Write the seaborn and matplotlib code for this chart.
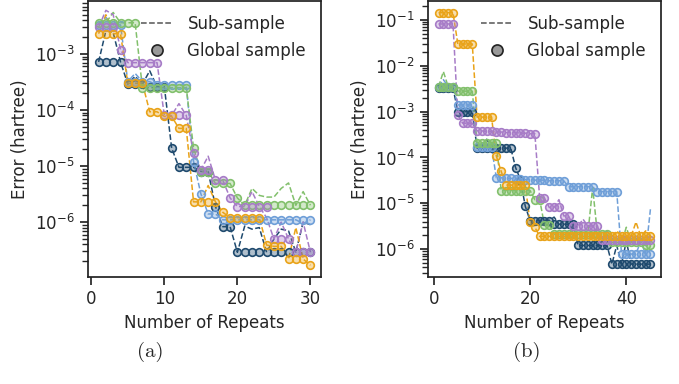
import matplotlib
matplotlib.use('Agg')
import matplotlib.pyplot as plt
import seaborn as sns
from matplotlib.lines import Line2D
from matplotlib.colors import to_rgba

# ---------------- data: panel (a), 30 repeats ----------------
repeats_a = list(range(1, 31))

navy_glob_a = [7.2e-4, 7.2e-4, 7.2e-4, 7.2e-4, 2.9e-4, 2.9e-4, 2.9e-4, 2.6e-4, 2.6e-4, 2.6e-4,
               2.1e-5, 9.5e-6, 9.5e-6, 9.5e-6, 8.0e-6, 8.0e-6, 1.9e-6, 8.3e-7, 8.3e-7, 2.9e-7,
               2.9e-7, 2.9e-7, 2.9e-7, 2.9e-7, 2.9e-7, 2.9e-7, 2.9e-7, 2.9e-7, 2.9e-7, 2.9e-7]
navy_sub_a = [7.2e-4, 2.6e-3, 2.4e-3, 7.2e-4, 2.9e-4, 4.0e-4, 2.9e-4, 5.0e-4, 2.6e-4, 2.6e-4,
              2.1e-5, 9.5e-6, 9.5e-6, 9.5e-6, 8.0e-6, 8.0e-6, 1.9e-6, 8.3e-7, 8.3e-7, 2.9e-7,
              8.5e-7, 7.5e-7, 8.0e-7, 2.9e-7, 5.0e-7, 7.5e-7, 7.0e-7, 2.9e-7, 1.0e-6, 9.0e-7]

lblue_glob_a = [3.3e-3, 3.3e-3, 3.3e-3, 3.3e-3, 3.2e-4, 3.2e-4, 3.2e-4, 3.2e-4, 2.8e-4, 2.8e-4,
                2.8e-4, 2.8e-4, 2.8e-4, 1.2e-5, 3.2e-6, 1.4e-6, 1.4e-6, 1.1e-6, 1.1e-6, 1.1e-6,
                1.1e-6, 1.1e-6, 1.1e-6, 1.1e-6, 1.1e-6, 1.1e-6, 1.1e-6, 1.1e-6, 1.1e-6, 1.1e-6]
lblue_sub_a = [3.3e-3, 4.5e-3, 3.3e-3, 3.3e-3, 3.2e-4, 4.5e-4, 3.2e-4, 3.2e-4, 2.8e-4, 2.8e-4,
               2.8e-4, 2.8e-4, 2.8e-4, 1.2e-5, 3.2e-6, 1.4e-6, 1.4e-6, 1.1e-6, 1.1e-6, 1.1e-6,
               1.1e-6, 1.1e-6, 1.1e-6, 1.1e-6, 1.1e-6, 1.1e-6, 1.1e-6, 1.1e-6, 9.5e-7, 1.1e-6]

green_glob_a = [3.6e-3, 3.6e-3, 3.6e-3, 3.6e-3, 3.6e-3, 3.6e-3, 2.5e-4, 2.5e-4, 2.5e-4, 2.5e-4,
                2.5e-4, 2.5e-4, 2.5e-4, 2.1e-5, 8.0e-6, 8.0e-6, 4.9e-6, 4.9e-6, 4.9e-6, 2.7e-6,
                2.0e-6, 2.0e-6, 2.0e-6, 2.0e-6, 2.0e-6, 2.0e-6, 2.0e-6, 2.0e-6, 2.0e-6, 2.0e-6]
green_sub_a = [3.6e-3, 3.6e-3, 5.5e-3, 3.6e-3, 3.6e-3, 3.6e-3, 2.5e-4, 2.5e-4, 2.5e-4, 2.5e-4,
               2.5e-4, 2.5e-4, 2.5e-4, 2.1e-5, 8.0e-6, 8.0e-6, 4.9e-6, 4.9e-6, 4.9e-6, 2.7e-6,
               2.0e-6, 4.0e-6, 3.0e-6, 2.8e-6, 2.8e-6, 4.0e-6, 5.0e-6, 2.0e-6, 3.5e-6, 2.0e-6]

purple_glob_a = [3.0e-3, 3.0e-3, 3.0e-3, 1.2e-3, 7.0e-4, 7.0e-4, 7.0e-4, 7.0e-4, 7.0e-4, 8.0e-5,
                 8.0e-5, 8.0e-5, 8.0e-5, 1.7e-5, 8.5e-6, 8.5e-6, 5.6e-6, 5.6e-6, 2.7e-6, 1.9e-6,
                 1.9e-6, 1.9e-6, 1.9e-6, 1.9e-6, 5.0e-7, 5.0e-7, 5.0e-7, 2.9e-7, 2.9e-7, 2.9e-7]
purple_sub_a = [3.0e-3, 6.0e-3, 5.0e-3, 1.2e-3, 7.0e-4, 7.0e-4, 7.0e-4, 7.0e-4, 7.0e-4, 8.0e-5,
                8.0e-5, 1.3e-4, 8.0e-5, 1.7e-5, 8.5e-6, 1.5e-5, 5.6e-6, 5.6e-6, 2.7e-6, 1.9e-6,
                1.9e-6, 3.5e-6, 1.9e-6, 1.2e-6, 5.0e-7, 1.0e-6, 5.0e-7, 2.9e-7, 1.0e-6, 2.9e-7]

orange_glob_a = [2.3e-3, 2.3e-3, 2.3e-3, 2.3e-3, 3.0e-4, 3.0e-4, 3.0e-4, 9.3e-5, 9.3e-5, 7.7e-5,
                 7.7e-5, 4.7e-5, 4.7e-5, 2.3e-6, 2.3e-6, 2.3e-6, 2.3e-6, 1.5e-6, 1.2e-6, 1.2e-6,
                 1.2e-6, 1.2e-6, 1.2e-6, 3.9e-7, 3.7e-7, 3.7e-7, 2.2e-7, 2.2e-7, 2.2e-7, 1.7e-7]
orange_sub_a = [2.3e-3, 5.0e-3, 2.3e-3, 2.3e-3, 3.0e-4, 3.0e-4, 3.0e-4, 9.3e-5, 9.3e-5, 7.7e-5,
                7.7e-5, 4.7e-5, 4.7e-5, 2.3e-6, 2.3e-6, 4.5e-6, 2.3e-6, 1.5e-6, 1.2e-6, 1.2e-6,
                1.2e-6, 1.2e-6, 1.2e-6, 3.9e-7, 3.7e-7, 3.7e-7, 2.2e-7, 8.0e-7, 2.2e-7, 1.7e-7]

# ---------------- data: panel (b), 45 repeats ----------------
repeats_b = list(range(1, 46))

navy_glob_b = [3.3e-3, 3.3e-3, 3.3e-3, 3.3e-3, 1.0e-3, 1.0e-3, 1.0e-3, 1.0e-3, 1.6e-4, 1.6e-4,
               1.6e-4, 1.6e-4, 1.6e-4, 1.6e-4, 1.6e-4, 1.6e-4, 6.0e-5, 3.3e-5, 8.7e-6, 4.2e-6,
               4.2e-6, 4.2e-6, 4.2e-6, 4.2e-6, 3.5e-6, 3.5e-6, 3.5e-6, 3.5e-6, 3.5e-6, 1.2e-6,
               1.2e-6, 1.2e-6, 1.2e-6, 1.2e-6, 1.2e-6, 1.2e-6, 4.7e-7, 4.7e-7, 4.7e-7, 4.7e-7,
               4.7e-7, 4.7e-7, 4.7e-7, 4.7e-7, 4.7e-7]
navy_sub_b = [3.3e-3, 4.0e-3, 3.3e-3, 3.3e-3, 1.0e-3, 1.0e-3, 1.0e-3, 1.0e-3, 1.6e-4, 1.6e-4,
              2.5e-4, 1.6e-4, 1.6e-4, 1.6e-4, 1.6e-4, 1.6e-4, 6.0e-5, 3.3e-5, 8.7e-6, 4.2e-6,
              4.2e-6, 4.2e-6, 4.2e-6, 4.2e-6, 5.0e-6, 3.5e-6, 3.5e-6, 3.5e-6, 3.5e-6, 1.2e-6,
              1.2e-6, 1.2e-6, 1.2e-6, 1.2e-6, 1.2e-6, 1.2e-6, 4.7e-7, 1.2e-6, 4.7e-7, 1.5e-6,
              4.7e-7, 4.7e-7, 4.7e-7, 4.7e-7, 4.7e-7]

lblue_glob_b = [3.5e-3, 3.5e-3, 3.5e-3, 3.5e-3, 1.4e-3, 1.4e-3, 1.4e-3, 1.4e-3, 1.7e-4, 1.7e-4,
                1.7e-4, 1.7e-4, 3.6e-5, 3.6e-5, 3.5e-5, 3.5e-5, 3.4e-5, 3.4e-5, 3.3e-5, 3.3e-5,
                3.2e-5, 3.2e-5, 3.2e-5, 3.1e-5, 3.1e-5, 3.1e-5, 3.1e-5, 2.3e-5, 2.3e-5, 2.3e-5,
                2.3e-5, 2.3e-5, 2.3e-5, 1.8e-5, 1.8e-5, 1.8e-5, 1.8e-5, 1.8e-5, 7.8e-7, 7.8e-7,
                7.8e-7, 7.8e-7, 7.8e-7, 7.8e-7, 7.8e-7]
lblue_sub_b = [3.5e-3, 5.0e-3, 3.5e-3, 3.5e-3, 1.4e-3, 1.4e-3, 1.4e-3, 1.4e-3, 1.7e-4, 1.7e-4,
               1.7e-4, 1.7e-4, 3.6e-5, 3.6e-5, 3.5e-5, 3.5e-5, 3.4e-5, 3.4e-5, 3.3e-5, 3.3e-5,
               3.2e-5, 3.2e-5, 3.2e-5, 3.1e-5, 3.1e-5, 3.1e-5, 3.1e-5, 2.3e-5, 2.3e-5, 2.3e-5,
               2.3e-5, 2.3e-5, 2.3e-5, 1.8e-5, 1.8e-5, 1.8e-5, 1.8e-5, 1.8e-5, 7.8e-7, 7.8e-7,
               7.8e-7, 7.8e-7, 1.5e-6, 7.8e-7, 7.4e-6]

green_glob_b = [3.5e-3, 3.5e-3, 3.5e-3, 3.5e-3, 2.8e-3, 2.8e-3, 2.8e-3, 2.8e-3, 2.1e-4, 2.1e-4,
                2.1e-4, 2.1e-4, 2.1e-4, 1.9e-5, 1.9e-5, 1.9e-5, 1.9e-5, 1.9e-5, 1.9e-5, 1.9e-5,
                1.2e-5, 1.2e-5, 3.3e-6, 3.3e-6, 2.1e-6, 2.1e-6, 2.1e-6, 2.1e-6, 2.1e-6, 2.1e-6,
                2.1e-6, 2.1e-6, 2.1e-6, 2.1e-6, 2.1e-6, 2.1e-6, 1.4e-6, 1.4e-6, 1.4e-6, 1.4e-6,
                1.4e-6, 1.4e-6, 1.4e-6, 1.2e-6, 1.2e-6]
green_sub_b = [3.5e-3, 7.5e-3, 3.5e-3, 3.5e-3, 2.8e-3, 2.8e-3, 2.8e-3, 2.8e-3, 2.1e-4, 2.1e-4,
               2.1e-4, 2.1e-4, 2.1e-4, 1.9e-5, 1.9e-5, 1.9e-5, 1.9e-5, 1.9e-5, 1.9e-5, 1.9e-5,
               1.2e-5, 1.2e-5, 3.3e-6, 3.3e-6, 2.1e-6, 2.1e-6, 2.1e-6, 2.1e-6, 2.1e-6, 2.1e-6,
               2.1e-6, 2.1e-6, 2.2e-5, 2.1e-6, 2.1e-6, 2.1e-6, 1.4e-6, 1.4e-6, 1.4e-6, 3.0e-6,
               1.4e-6, 2.0e-6, 1.4e-6, 1.2e-6, 1.2e-6]

purple_glob_b = [8.2e-2, 8.2e-2, 8.2e-2, 8.2e-2, 8.5e-4, 5.6e-4, 5.6e-4, 5.6e-4, 3.8e-4, 3.8e-4,
                 3.7e-4, 3.7e-4, 3.6e-4, 3.6e-4, 3.5e-4, 3.5e-4, 3.5e-4, 3.4e-4, 3.4e-4, 3.3e-4,
                 3.3e-4, 1.3e-5, 1.3e-5, 8.1e-6, 8.1e-6, 8.1e-6, 5.3e-6, 5.3e-6, 3.2e-6, 3.2e-6,
                 3.2e-6, 3.2e-6, 3.2e-6, 3.2e-6, 1.6e-6, 1.6e-6, 1.6e-6, 1.6e-6, 1.6e-6, 1.6e-6,
                 1.6e-6, 1.6e-6, 1.6e-6, 1.6e-6, 1.6e-6]
purple_sub_b = [8.2e-2, 8.2e-2, 8.2e-2, 8.2e-2, 8.5e-4, 5.6e-4, 5.6e-4, 5.6e-4, 3.8e-4, 3.8e-4,
                3.7e-4, 3.7e-4, 3.6e-4, 3.6e-4, 3.5e-4, 3.5e-4, 3.5e-4, 3.4e-4, 3.4e-4, 3.3e-4,
                3.3e-4, 1.3e-5, 1.3e-5, 8.1e-6, 8.1e-6, 1.2e-5, 5.3e-6, 5.3e-6, 3.2e-6, 3.2e-6,
                4.5e-6, 3.2e-6, 3.2e-6, 3.2e-6, 1.6e-6, 2.5e-6, 1.6e-6, 1.6e-6, 1.6e-6, 1.6e-6,
                1.6e-6, 1.6e-6, 1.6e-6, 1.6e-6, 1.6e-6]

orange_glob_b = [1.45e-1, 1.45e-1, 1.45e-1, 1.45e-1, 3.0e-2, 3.0e-2, 3.0e-2, 3.0e-2, 7.6e-4, 7.6e-4,
                 7.6e-4, 7.6e-4, 1.07e-4, 5.0e-5, 2.5e-5, 2.5e-5, 2.5e-5, 2.5e-5, 2.5e-5, 3.9e-6,
                 3.0e-6, 1.9e-6, 1.9e-6, 1.9e-6, 1.9e-6, 1.9e-6, 1.9e-6, 1.9e-6, 1.9e-6, 1.9e-6,
                 1.9e-6, 1.9e-6, 1.9e-6, 1.9e-6, 1.9e-6, 1.9e-6, 1.9e-6, 1.9e-6, 1.9e-6, 1.9e-6,
                 1.9e-6, 1.9e-6, 1.9e-6, 1.9e-6, 1.9e-6]
orange_sub_b = [1.45e-1, 1.45e-1, 1.45e-1, 1.45e-1, 3.0e-2, 3.0e-2, 3.0e-2, 3.0e-2, 7.6e-4, 7.6e-4,
                7.6e-4, 7.6e-4, 1.07e-4, 5.0e-5, 2.5e-5, 2.5e-5, 2.5e-5, 2.5e-5, 2.5e-5, 3.9e-6,
                3.0e-6, 1.9e-6, 1.9e-6, 1.9e-6, 1.9e-6, 1.9e-6, 1.9e-6, 1.9e-6, 1.9e-6, 1.9e-6,
                1.9e-6, 1.9e-6, 1.9e-6, 1.9e-6, 1.9e-6, 1.9e-6, 1.9e-6, 2.5e-6, 1.9e-6, 1.9e-6,
                1.9e-6, 3.9e-6, 1.9e-6, 2.5e-6, 1.9e-6]

colors = ['#1f4a6e', '#6f9fd8', '#82c06c', '#a77cc7', '#e9a319']

series_a = [(navy_sub_a, navy_glob_a), (lblue_sub_a, lblue_glob_a), (green_sub_a, green_glob_a),
            (purple_sub_a, purple_glob_a), (orange_sub_a, orange_glob_a)]
series_b = [(navy_sub_b, navy_glob_b), (lblue_sub_b, lblue_glob_b), (green_sub_b, green_glob_b),
            (purple_sub_b, purple_glob_b), (orange_sub_b, orange_glob_b)]

# ---------------- style ----------------
sns.set_theme(style='ticks')
plt.rcParams['font.family'] = ['DejaVu Sans']
plt.rcParams['mathtext.fontset'] = 'dejavusans'
plt.rcParams['xtick.labelsize'] = 12
plt.rcParams['ytick.labelsize'] = 12
plt.rcParams['axes.labelsize'] = 12
plt.rcParams['axes.edgecolor'] = '#222222'

fig = plt.figure(figsize=(6.79, 3.84), dpi=100)
ax_a = fig.add_axes([0.1296, 0.2786, 0.3432, 0.7188])
ax_b = fig.add_axes([0.6303, 0.2786, 0.3432, 0.7188])


def draw_panel(ax, xs, series):
    for (sub, glob), c in zip(series, colors):
        sns.lineplot(x=xs, y=sub, ax=ax, color=c, linestyle='--', linewidth=1.1, zorder=2)
        face = to_rgba(c, 0.35)
        sns.lineplot(x=xs, y=glob, ax=ax, color=c, linestyle='', marker='o', markersize=5.5,
                     markerfacecolor=face, markeredgecolor=c, markeredgewidth=1.2, zorder=3)
    ax.set_yscale('log')
    ax.set_xlabel('Number of Repeats')
    ax.set_ylabel('Error (hartree)')
    ax.tick_params(axis='both', which='both', direction='out', right=False, top=False)


draw_panel(ax_a, repeats_a, series_a)
draw_panel(ax_b, repeats_b, series_b)

ax_a.set_ylim(1.05e-7, 8.8e-3)
ax_b.set_ylim(2.46e-7, 0.26)
ax_b.set_xticks([0, 20, 40])

handles = [Line2D([0], [0], color='#555555', linestyle='--', linewidth=1.1),
           Line2D([0], [0], color='#222222', linestyle='', marker='o', markersize=8,
                  markerfacecolor='#999999', markeredgewidth=1.2)]
labels = ['Sub-sample', 'Global sample']
for ax in (ax_a, ax_b):
    ax.legend(handles, labels, loc='upper right', frameon=False, fontsize=12,
              bbox_to_anchor=(1.0, 1.005), handlelength=1.9, handletextpad=0.9,
              labelspacing=0.55)

fig.text(150 / 679, 1 - 352 / 384, '(a)', ha='center', va='center', fontsize=15, family='cmr10')
fig.text(527 / 679, 1 - 352 / 384, '(b)', ha='center', va='center', fontsize=15, family='cmr10')

fig.savefig('out.png', dpi=100)
